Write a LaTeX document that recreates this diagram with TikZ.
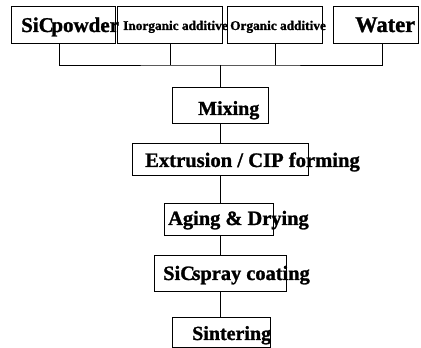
\documentclass[tikz,border=0pt]{standalone}
\usepackage{fontspec}
\setmainfont{Liberation Serif}[BoldFeatures={FakeBold=1.2}]
\begin{document}
\begin{tikzpicture}[x=1pt,y=1pt,
  box/.style={draw=black,line width=0.9pt,rectangle,inner sep=0pt},
  big/.style={anchor=base west,inner sep=0pt,font=\fontsize{20}{24}\selectfont\bfseries},
  topbig/.style={anchor=base west,inner sep=0pt,font=\fontsize{21}{25}\selectfont\bfseries},
  small/.style={anchor=base west,inner sep=0pt,font=\fontsize{13.3}{16}\selectfont\bfseries},
  link/.style={draw=black,line width=0.8pt}]
\useasboundingbox (0,0) rectangle (421,348);
\fill[white] (0,0) rectangle (421,348);
% top boxes
\node[box,minimum width=104pt,minimum height=37pt] (b1) at (63,323.5) {};
\node[box,minimum width=105pt,minimum height=37pt] (b2) at (169.5,323.5) {};
\node[box,minimum width=95pt,minimum height=37pt] (b3) at (274.5,323.5) {};
\node[box,minimum width=85pt,minimum height=37pt] (b4) at (375.5,323.5) {};
% process boxes
\node[box,minimum width=96pt,minimum height=36pt] (mix) at (220,243) {};
\node[box,minimum width=176pt,minimum height=32pt] (ext) at (220,189) {};
\node[box,minimum width=109pt,minimum height=32pt] (age) at (218.5,129) {};
\node[box,minimum width=132pt,minimum height=36pt] (spr) at (220,75) {};
\node[box,minimum width=98pt,minimum height=30pt] (sin) at (221,16) {};
% texts
\node[topbig] (t1) at (21,316) {SiC\hspace{-0.12em}powder};
\node[small] (t2) at (123,318) {Inorganic additive};
\node[small] (t3) at (230,318) {Organic additive};
\node[topbig,font=\fontsize{22.5}{26}\selectfont\bfseries] (t4) at (355,316) {Water};
\node[big] (tm) at (198,233) {Mixing};
\node[big,font=\fontsize{20.6}{24}\selectfont\bfseries] (te) at (145,181) {Extrusion / CIP forming};
\node[big,font=\fontsize{20.4}{24}\selectfont\bfseries] (ta) at (168,123) {Aging \& Drying};
\node[big,font=\fontsize{20.4}{24}\selectfont\bfseries] (ts) at (163,68) {SiC\hspace{-0.12em}spray coating};
\node[big] (ti) at (192,8) {Sintering};
% connectors
\coordinate (bus) at (220,283);
\draw[link] ([xshift=-4pt]b1.south) |- (bus) -| ([xshift=6.5pt]b4.south);
\draw[link] ([xshift=0.5pt]b2.south) -- ([xshift=0.5pt]b2.south |- bus);
\draw[link] ([xshift=0.5pt]b3.south) -- ([xshift=0.5pt]b3.south |- bus);
\draw[link] (bus) -- (mix.north);
\draw[link] (mix.south) -- (ext.north);
\draw[link] (ext.south) -- (ext.south |- age.north);
\draw[link] (age.south -| spr.north) -- (spr.north);
\draw[link] (spr.south) -- (spr.south |- sin.north);
\end{tikzpicture}
\end{document}
